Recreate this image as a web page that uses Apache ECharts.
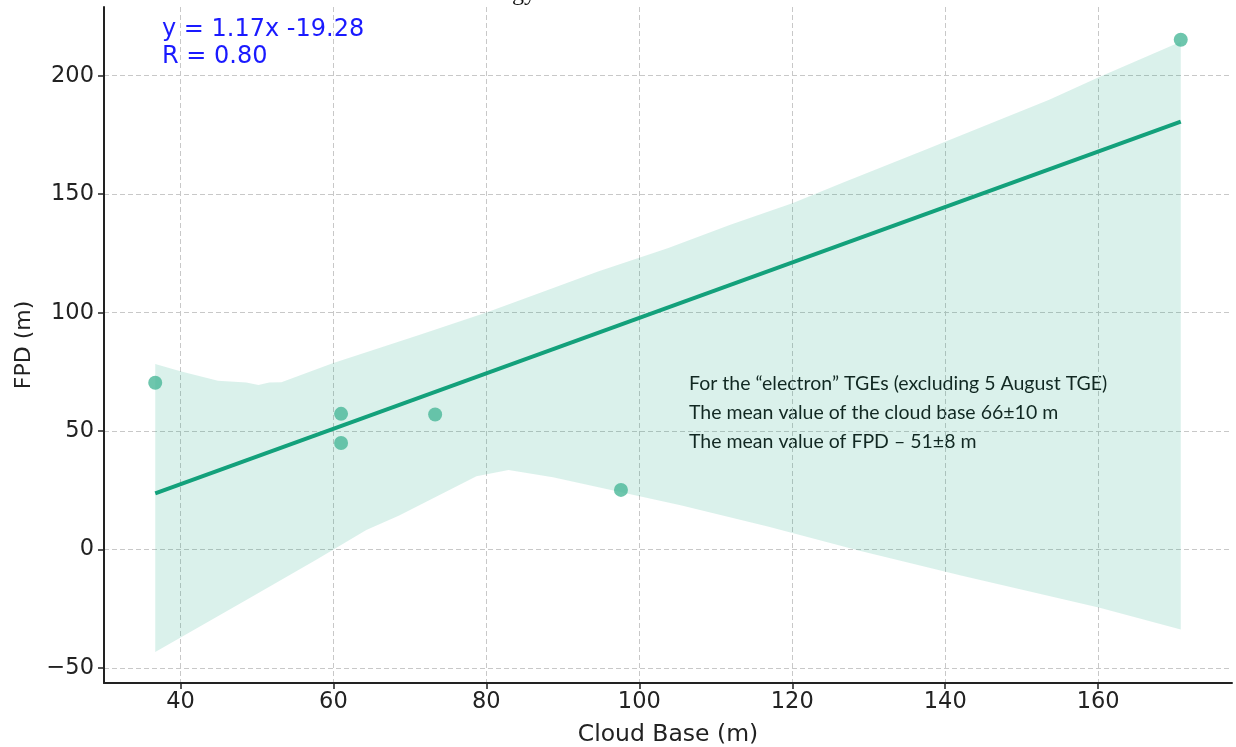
<!DOCTYPE html>
<html>
<head>
<meta charset="utf-8">
<script src="https://cdn.jsdelivr.net/npm/echarts@6/dist/echarts.min.js"></script>
<style>
  html, body { margin: 0; padding: 0; background: #fff; }
  #container { width: 1236px; height: 747px; }
</style>
</head>
<body>
<div id="container"></div>
<script>
// measured points: cloud base (m), FPD (m)
let cloudBase = [36.7, 61.0, 61.0, 73.3, 97.6, 170.8];
let fpd = [70.4, 57.3, 45.0, 57.0, 25.2, 215.2];

// fitted line end points (y = 1.17x - 19.28)
let fitLine = [[36.7, 23.7], [170.8, 180.6]];

// confidence band edges
let bandUpper = [
    [36.7, 78.3], [40.1, 75.2], [44.9, 71.3], [48.6, 70.5], [50.2, 69.5],
    [51.6, 70.5], [53.2, 70.6], [59.9, 78.7], [71.2, 90.6], [80.1, 100.2],
    [87.5, 108.9], [94.6, 117.4], [103.8, 127.3], [111.9, 137.1], [120.1, 146.3],
    [126.5, 154.7], [137.4, 168.8], [153.6, 189.9], [160.0, 199.2], [170.8, 214.3]
];
let bandLower = [
    [36.7, -43.2], [48.6, -21.3], [57.7, -4.4], [64.3, 8.3], [68.6, 14.4],
    [78.7, 31.0], [82.9, 33.6], [88.7, 30.5], [105.4, 18.7], [116.8, 9.8],
    [128.8, -0.5], [142.2, -11.0], [160.2, -24.5], [170.8, -33.7]
];

let xTicks = [40, 60, 80, 100, 120, 140, 160];
let yTicks = [-50, 0, 50, 100, 150, 200];

let points = cloudBase.map((x, i) => [x, fpd[i]]);

let dom = document.getElementById('container');
let chart = echarts.init(dom, null, { renderer: 'canvas' });

let tickFont = 'DejaVu Sans';

chart.setOption({
    animation: false,
    grid: { left: 104, right: 4, top: 7, bottom: 64, outerBoundsMode: 'none' },
    xAxis: {
        type: 'value',
        min: 30,
        max: 177.5,
        name: 'Cloud Base (m)',
        nameLocation: 'middle',
        nameGap: 40,
        nameTextStyle: { fontFamily: tickFont, fontSize: 23.5, color: '#222' },
        axisLine: { onZero: false, lineStyle: { color: '#222', width: 2 } },
        axisTick: { customValues: xTicks, length: 6, lineStyle: { color: '#222', width: 1.5 } },
        axisLabel: { customValues: xTicks, fontFamily: tickFont, fontSize: 22.5, color: '#222', margin: 8 },
        splitLine: { show: true, lineStyle: { color: '#c8c8c8', type: [5, 3], width: 1 } }
    },
    yAxis: {
        type: 'value',
        min: -56.3,
        max: 229,
        name: 'FPD (m)',
        nameLocation: 'middle',
        nameGap: 67,
        nameTextStyle: { fontFamily: tickFont, fontSize: 22, color: '#222' },
        axisLine: { show: true, onZero: false, lineStyle: { color: '#222', width: 2 } },
        axisTick: { show: true, customValues: yTicks, length: 6, lineStyle: { color: '#222', width: 1.5 } },
        axisLabel: { customValues: yTicks, fontFamily: tickFont, fontSize: 22.5, color: '#222', margin: 10,
            formatter: v => v < 0 ? '\u2212' + Math.abs(v) : String(v) },
        splitLine: { show: true, lineStyle: { color: '#c8c8c8', type: [5, 3], width: 1 } }
    },
    series: [
        {
            name: 'band',
            type: 'custom',
            clip: true,
            silent: true,
            data: [bandUpper[0]],
            renderItem: function (params, api) {
                let pts = bandUpper.map(p => api.coord(p))
                    .concat(bandLower.slice().reverse().map(p => api.coord(p)));
                return {
                    type: 'polygon',
                    shape: { points: pts },
                    style: { fill: 'rgba(22,163,127,0.155)' }
                };
            },
            z: 1
        },
        {
            name: 'fit',
            type: 'line',
            data: fitLine,
            symbol: 'none',
            lineStyle: { color: '#13a17b', width: 4 },
            z: 2
        },
        {
            name: 'points',
            type: 'scatter',
            data: points,
            symbolSize: 14,
            itemStyle: { color: '#4ab899' },
            z: 3
        }
    ],
    graphic: [
        {
            type: 'text',
            left: 162,
            top: 16,
            style: {
                text: 'y = 1.17x -19.28\nR = 0.80',
                font: '24px "DejaVu Sans"',
                fill: '#1a1aff',
                lineHeight: 27
            }
        },
        {
            type: 'text',
            left: 689,
            top: 369,
            style: {
                text: 'For the \u201celectron\u201d TGEs (excluding 5 August TGE)\nThe mean value of the cloud base 66\u00b110 m\nThe mean value of FPD \u2013 51\u00b18 m',
                font: '19.5px Lato',
                fill: '#111',
                lineHeight: 29
            }
        },
        {
            type: 'text',
            right: 1236 - 536,
            top: -18,
            style: {
                text: 'gy',
                font: '24px "Liberation Serif"',
                fill: '#111'
            }
        }
    ]
});
</script>
</body>
</html>
